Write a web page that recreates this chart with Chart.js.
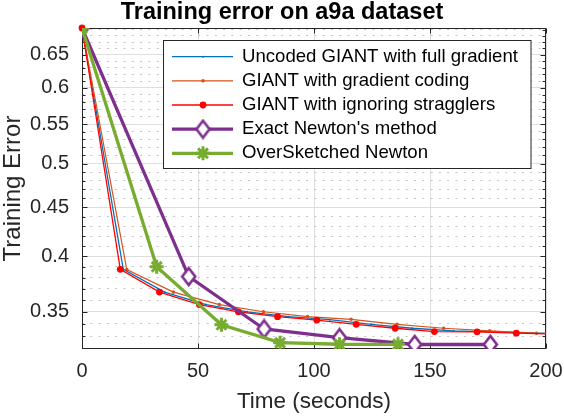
<!DOCTYPE html>
<html>
<head>
<meta charset="utf-8">
<script src="https://cdn.jsdelivr.net/npm/chart.js@4.4.0/dist/chart.umd.min.js"></script>
<style>
  html, body { margin: 0; padding: 0; background: #fff; }
</style>
</head>
<body>
<canvas id="erroTreino" width="564" height="418"></canvas>
<script>
// Tempo (s) e erro de treino de cada método
var tempoSemCodigo = [0, 17.8, 35.6, 53.4, 71.2, 89, 106.8, 124.6, 142.4, 160.2, 178, 195.8, 213.6];
var erroSemCodigo = [0.6931, 0.3876, 0.3670, 0.3561, 0.3500, 0.3459, 0.3434, 0.3396, 0.3364, 0.3343, 0.3335, 0.3324, 0.3316];

var tempoCodificado = [0, 19.3, 39.4, 59.2, 78.2, 97.2, 116, 135.8, 155.9, 175.7, 195.9, 215.5];
var erroCodificado = [0.6931, 0.3875, 0.3670, 0.3561, 0.3500, 0.3459, 0.3437, 0.3396, 0.3364, 0.3343, 0.3324, 0.3316];

var tempoIgnorando = [0, 16.5, 33.4, 50.6, 67.4, 84.3, 101.2, 118.2, 135, 151.9, 170.3, 187.2, 204];
var erroIgnorando = [0.6931, 0.3877, 0.3670, 0.3561, 0.3500, 0.3459, 0.3431, 0.3396, 0.3364, 0.3337, 0.3335, 0.3324, 0.3316];

var tempoNewton = [0, 46, 78.5, 111, 143.4, 176];
var erroNewton = [0.6931, 0.3810, 0.3358, 0.3288, 0.3235, 0.3235];

var tempoOverSketched = [0, 32.2, 60.1, 85.4, 111, 136.2];
var erroOverSketched = [0.6931, 0.3900, 0.3392, 0.3249, 0.3237, 0.3236];

// Marcas dos eixos
var ticksX = [0, 50, 100, 150, 200];
var ticksY = [0.35, 0.4, 0.45, 0.5, 0.55, 0.6, 0.65];
var ticksYMenores = [0.33, 0.34, 0.36, 0.37, 0.38, 0.39, 0.41, 0.42, 0.43, 0.44, 0.46, 0.47, 0.48, 0.49,
    0.51, 0.52, 0.53, 0.54, 0.56, 0.57, 0.58, 0.59, 0.61, 0.62, 0.63, 0.64, 0.66, 0.67, 0.68, 0.69];

var corAzul = '#0072BD';
var corLaranja = '#D95319';
var corVermelho = '#FF0000';
var corRoxo = '#7E2F8E';
var corVerde = '#77AC30';
var corEixo = '#262626';

function pontos(xs, ys) {
    return xs.map(function(x, i) { return { x: x, y: ys[i] }; });
}

// losango do Newton exato (mais alto que largo, como no MATLAB)
function criarLosango() {
    var c = document.createElement('canvas');
    c.width = 17;
    c.height = 21;
    var g = c.getContext('2d');
    g.beginPath();
    g.moveTo(8.5, 2);
    g.lineTo(15, 10.5);
    g.lineTo(8.5, 19);
    g.lineTo(2, 10.5);
    g.closePath();
    g.fillStyle = '#fff';
    g.fill();
    g.lineWidth = 2.6;
    g.strokeStyle = corRoxo;
    g.stroke();
    return c;
}
var losango = criarLosango();

// caixa do gráfico com marcas para dentro
var moldura = {
    id: 'moldura',
    beforeDatasetsDraw: function(chart) {
        var ctx = chart.ctx;
        var a = chart.chartArea;
        var sx = chart.scales.x, sy = chart.scales.y;
        var esq = Math.round(a.left) + 0.5, dir = Math.round(a.right) - 0.5;
        var cima = Math.round(a.top) + 0.5, baixo = Math.round(a.bottom) - 0.5;
        ctx.save();
        ctx.strokeStyle = corEixo;
        ctx.lineWidth = 1;
        ctx.beginPath();
        ticksY.concat(ticksYMenores).forEach(function(v) {
            var y = Math.round(sy.getPixelForValue(v)) + 0.5;
            var tam = ticksY.indexOf(v) >= 0 ? 5 : 3;
            ctx.moveTo(esq, y); ctx.lineTo(esq + tam, y);
            ctx.moveTo(dir, y); ctx.lineTo(dir - tam, y);
        });
        ticksX.forEach(function(v) {
            var x = Math.round(sx.getPixelForValue(v)) + 0.5;
            ctx.moveTo(x, baixo); ctx.lineTo(x, baixo - 5);
            ctx.moveTo(x, cima); ctx.lineTo(x, cima + 5);
        });
        ctx.stroke();
        ctx.strokeRect(esq, cima, dir - esq, baixo - cima);
        ctx.restore();
    }
};

// legenda desenhada dentro da área do gráfico
var legendaInterna = {
    id: 'legendaInterna',
    afterDraw: function(chart) {
        var ctx = chart.ctx;
        ctx.save();
        ctx.fillStyle = '#fff';
        ctx.fillRect(163.5, 40.5, 367.5, 128);
        ctx.strokeStyle = corEixo;
        ctx.lineWidth = 1;
        ctx.strokeRect(163.5, 40.5, 367.5, 128);
        chart.data.datasets.forEach(function(ds, i) {
            var y = 56.7 + i * 24.15;
            ctx.strokeStyle = ds.borderColor;
            ctx.lineWidth = ds.borderWidth;
            ctx.beginPath();
            ctx.moveTo(172, y);
            ctx.lineTo(233, y);
            ctx.stroke();
            ctx.fillStyle = ds.pointBackgroundColor;
            ctx.strokeStyle = ds.pointBorderColor;
            ctx.lineWidth = ds.pointBorderWidth;
            Chart.helpers.drawPoint(ctx, {
                pointStyle: ds.pointStyle,
                radius: ds.pointRadius,
                borderWidth: ds.pointBorderWidth,
                rotation: 0
            }, 203, y);
            ctx.fillStyle = '#000';
            ctx.font = '18.6px "Liberation Sans", Arial, sans-serif';
            ctx.textBaseline = 'middle';
            ctx.textAlign = 'left';
            ctx.fillText(ds.label, 242, y);
        });
        ctx.restore();
    }
};

Chart.defaults.font.family = '"Liberation Sans", Arial, Helvetica, sans-serif';
Chart.defaults.color = corEixo;

var recorteFino = { left: 12, top: 12, right: 0, bottom: 12 };

var ctx_erro = document.getElementById('erroTreino').getContext('2d');
var grafico = new Chart(ctx_erro, {
    type: 'line',
    data: {
        datasets: [{
            label: 'Uncoded GIANT with full gradient',
            data: pontos(tempoSemCodigo, erroSemCodigo),
            borderColor: corAzul,
            borderWidth: 1.3,
            pointStyle: 'circle',
            pointRadius: 1,
            pointBackgroundColor: corAzul,
            pointBorderColor: corAzul,
            pointBorderWidth: 0,
            clip: recorteFino,
            order: 4
        }, {
            label: 'GIANT with gradient coding',
            data: pontos(tempoCodificado, erroCodificado),
            borderColor: corLaranja,
            borderWidth: 1.2,
            pointStyle: 'circle',
            pointRadius: 1.8,
            pointBackgroundColor: corLaranja,
            pointBorderColor: corLaranja,
            pointBorderWidth: 0,
            clip: recorteFino,
            order: 3
        }, {
            label: 'GIANT with ignoring stragglers',
            data: pontos(tempoIgnorando, erroIgnorando),
            borderColor: corVermelho,
            borderWidth: 1.3,
            pointStyle: 'circle',
            pointRadius: 3.4,
            pointBackgroundColor: corVermelho,
            pointBorderColor: corVermelho,
            pointBorderWidth: 0,
            clip: recorteFino,
            order: 2
        }, {
            label: "Exact Newton's method",
            data: pontos(tempoNewton, erroNewton),
            borderColor: corRoxo,
            borderWidth: 3.3,
            pointStyle: losango,
            pointRadius: 8,
            pointBackgroundColor: '#fff',
            pointBorderColor: corRoxo,
            pointBorderWidth: 2.6,
            order: 1
        }, {
            label: 'OverSketched Newton',
            data: pontos(tempoOverSketched, erroOverSketched),
            borderColor: corVerde,
            borderWidth: 3.3,
            pointStyle: 'star',
            pointRadius: 7,
            pointBackgroundColor: corVerde,
            pointBorderColor: corVerde,
            pointBorderWidth: 3,
            order: 0
        }]
    },
    options: {
        responsive: false,
        animation: false,
        devicePixelRatio: 1,
        layout: { padding: 0 },
        elements: { line: { tension: 0 } },
        plugins: {
            legend: { display: false },
            tooltip: { enabled: false },
            title: {
                display: true,
                text: 'Training error on a9a dataset',
                color: '#000',
                font: { size: 23.5, weight: 'bold', lineHeight: 1 },
                padding: { top: 0.5, bottom: 4 }
            }
        },
        scales: {
            x: {
                type: 'linear',
                min: 0,
                max: 200,
                afterBuildTicks: function(scale) {
                    scale.ticks = ticksX.map(function(v) { return { value: v }; });
                },
                afterFit: function(scale) {
                    scale.height = 69;
                    scale.paddingLeft = 0;
                    scale.paddingRight = 0;
                },
                grid: { color: '#dedede', drawTicks: false },
                border: { display: false },
                ticks: { font: { size: 20 }, padding: 10, maxRotation: 0 },
                title: {
                    display: true,
                    text: 'Time (seconds)',
                    font: { size: 22.5 },
                    padding: { top: 0, bottom: 2.5 }
                }
            },
            y: {
                type: 'logarithmic',
                position: 'left',
                min: 0.3231,
                max: 0.6931,
                afterBuildTicks: function(scale) {
                    scale.ticks = ticksY.map(function(v) { return { value: v }; });
                },
                afterFit: function(scale) { scale.width = 82; },
                grid: { color: '#dedede', drawTicks: false },
                border: { display: false },
                ticks: {
                    font: { size: 20 },
                    padding: 13,
                    autoSkip: false,
                    callback: function(value) { return String(value); }
                },
                title: {
                    display: true,
                    text: 'Training Error',
                    font: { size: 24, lineHeight: 1.1 },
                    padding: { top: 0.5, bottom: 0 }
                }
            },
            yMenor: {
                type: 'logarithmic',
                position: 'right',
                min: 0.3231,
                max: 0.6931,
                afterBuildTicks: function(scale) {
                    scale.ticks = ticksYMenores.map(function(v) { return { value: v }; });
                },
                afterFit: function(scale) { scale.width = 18; },
                grid: { color: '#c4c4c4', drawTicks: false },
                border: { display: false, dash: [2, 6.3] },
                ticks: { display: false }
            }
        }
    },
    plugins: [moldura, legendaInterna]
});
</script>
</body>
</html>
